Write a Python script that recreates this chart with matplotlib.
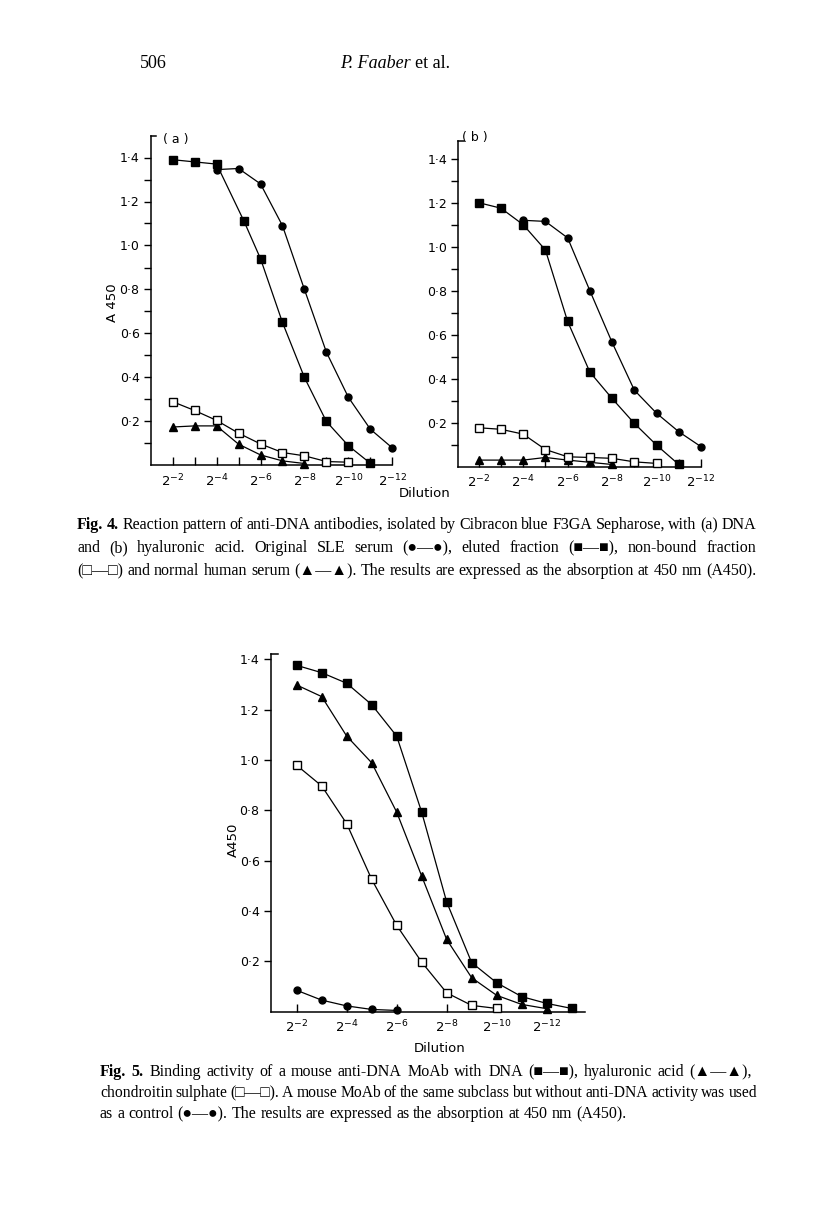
import matplotlib
matplotlib.use('Agg')
import matplotlib.pyplot as plt
import numpy as np

W, H = 816, 1214
SERIF = ['Liberation Serif', 'DejaVu Serif', 'DejaVu Sans']
SANS = ['DejaVu Sans']

# Fig. 4 (a) DNA  -- x is the dilution exponent n (dilution 2^-n)
a_eluted_x = [2, 3, 4, 5.25, 6, 7, 8, 9, 10, 11]
a_eluted_y = [1.39, 1.38, 1.37, 1.11, 0.94, 0.65, 0.40, 0.20, 0.09, 0.01]
a_serum_x = [4, 5, 6, 7, 8, 9, 10, 11, 12]
a_serum_y = [1.345, 1.35, 1.28, 1.09, 0.80, 0.515, 0.31, 0.165, 0.08]
a_nonbound_x = [2, 3, 4, 5, 6, 7, 8, 9, 10]
a_nonbound_y = [0.29, 0.25, 0.205, 0.147, 0.098, 0.059, 0.044, 0.018, 0.015]
a_normal_x = [2, 3, 4, 5, 6, 7, 8]
a_normal_y = [0.175, 0.18, 0.18, 0.097, 0.048, 0.021, 0.009]

# Fig. 4 (b) hyaluronic acid
b_eluted_x = [2, 3, 4, 5, 6, 7, 8, 9, 10, 11]
b_eluted_y = [1.20, 1.175, 1.10, 0.985, 0.66, 0.43, 0.31, 0.197, 0.098, 0.01]
b_serum_x = [4, 5, 6, 7, 8, 9, 10, 11, 12]
b_serum_y = [1.12, 1.115, 1.04, 0.80, 0.565, 0.348, 0.243, 0.159, 0.091]
b_nonbound_x = [2, 3, 4, 5, 6, 7, 8, 9, 10]
b_nonbound_y = [0.177, 0.17, 0.148, 0.078, 0.045, 0.042, 0.038, 0.022, 0.015]
b_normal_x = [2, 3, 4, 5, 6, 7, 8]
b_normal_y = [0.03, 0.03, 0.03, 0.042, 0.03, 0.02, 0.01]

# Fig. 5
f5_dna_x = [2, 3, 4, 5, 6, 7, 8, 9, 10, 11, 12, 13]
f5_dna_y = [1.376, 1.347, 1.305, 1.22, 1.095, 0.793, 0.436, 0.195, 0.115, 0.06, 0.033, 0.013]
f5_hya_x = [2, 3, 4, 5, 6, 7, 8, 9, 10, 11, 12]
f5_hya_y = [1.298, 1.252, 1.095, 0.989, 0.793, 0.539, 0.287, 0.135, 0.065, 0.029, 0.012]
f5_chon_x = [2, 3, 4, 5, 6, 7, 8, 9, 10]
f5_chon_y = [0.979, 0.897, 0.747, 0.526, 0.343, 0.197, 0.075, 0.025, 0.013]
f5_ctrl_x = [2, 3, 4, 5, 6]
f5_ctrl_y = [0.085, 0.046, 0.023, 0.009, 0.005]

x_major = [2, 4, 6, 8, 10, 12]
x_labels = ['2$^{-%d}$' % n for n in x_major]
y_major = [0.2, 0.4, 0.6, 0.8, 1.0, 1.2, 1.4]
y_labels = ['0·2', '0·4', '0·6', '0·8', '1·0', '1·2', '1·4']

fig = plt.figure(figsize=(W / 100, H / 100), dpi=100)
fig.patch.set_facecolor('white')


def px_rect(left, top, right, bottom):
    return [left / W, 1 - bottom / H, (right - left) / W, (bottom - top) / H]


def style(ax, xlim, ylim, minor=True):
    ax.set_xlim(*xlim)
    ax.set_ylim(*ylim)
    for s in ['top', 'right']:
        ax.spines[s].set_visible(False)
    for s in ['left', 'bottom']:
        ax.spines[s].set_linewidth(1.1)
    ax.set_xticks(x_major)
    ax.set_xticklabels(x_labels, fontsize=9.5, family=SANS)
    ax.set_yticks(y_major)
    ax.set_yticklabels(y_labels, fontsize=9, family=SANS)
    ax.tick_params(axis='x', which='both', direction='in', length=6, width=1, pad=5)
    ax.tick_params(axis='y', which='both', direction='out', length=5, width=1, pad=3)
    if minor:
        ax.set_xticks([3, 5, 7, 9, 11], minor=True)
        ax.set_yticks([0.1, 0.3, 0.5, 0.7, 0.9, 1.1, 1.3], minor=True)
    # little stub at the top of the y axis
    ax.plot([0, 0.022], [1, 1], transform=ax.transAxes, color='k', lw=1.1, clip_on=False)


def series(ax, x, y, kind, z=3):
    kw = dict(color='k', lw=0.9, clip_on=False, zorder=z)
    if kind == 'fsq':
        ax.plot(x, y, marker='s', ms=6, mfc='k', mec='k', **kw)
    elif kind == 'osq':
        ax.plot(x, y, marker='s', ms=5.5, mfc='white', mec='k', mew=1, **kw)
    elif kind == 'cir':
        ax.plot(x, y, marker='o', ms=5, mfc='k', mec='k', **kw)
    elif kind == 'tri':
        ax.plot(x, y, marker='^', ms=6, mfc='k', mec='k', **kw)


# Fig 4 (a)
ax_a = fig.add_axes(px_rect(150.7, 135.5, 392.3, 465.5))
style(ax_a, (1, 12), (0, 1.5))
series(ax_a, a_normal_x, a_normal_y, 'tri')
series(ax_a, a_nonbound_x, a_nonbound_y, 'osq', 4)
series(ax_a, a_serum_x, a_serum_y, 'cir')
series(ax_a, a_eluted_x, a_eluted_y, 'fsq', 5)
fig.text(163 / W, 1 - 140 / H, '( a )', fontsize=9, family=SANS, va='center')

# Fig 4 (b)
ax_b = fig.add_axes(px_rect(458.3, 141.1, 701, 466.7))
style(ax_b, (1.08, 12), (0, 1.48))
series(ax_b, b_normal_x, b_normal_y, 'tri')
series(ax_b, b_nonbound_x, b_nonbound_y, 'osq', 4)
series(ax_b, b_serum_x, b_serum_y, 'cir')
series(ax_b, b_eluted_x, b_eluted_y, 'fsq', 5)
fig.text(462 / W, 1 - 138 / H, '( b )', fontsize=9, family=SANS, va='center')

fig.text(113 / W, 1 - 303 / H, 'A 450', rotation=90, fontsize=9.5, family=SANS,
         ha='center', va='center')
fig.text(425 / W, 1 - 493 / H, 'Dilution', fontsize=9.5, family=SANS,
         ha='center', va='center')

# Fig 5
ax5 = fig.add_axes(px_rect(270.7, 654.3, 585.4, 1011.7))
style(ax5, (0.96, 13.55), (0, 1.42), minor=False)
series(ax5, f5_ctrl_x, f5_ctrl_y, 'cir')
series(ax5, f5_chon_x, f5_chon_y, 'osq', 4)
series(ax5, f5_hya_x, f5_hya_y, 'tri')
series(ax5, f5_dna_x, f5_dna_y, 'fsq', 5)
fig.text(233 / W, 1 - 840 / H, 'A450', rotation=90, fontsize=9.5, family=SANS,
         ha='center', va='center')
fig.text(440 / W, 1 - 1049 / H, 'Dilution', fontsize=9.5, family=SANS,
         ha='center', va='center')

renderer = fig.canvas.get_renderer()
CAP_SIZE = 11.5


def caption_line(y, x0, x1, line, n_bold=0, size=CAP_SIZE, justify=True):
    words = line.split(' ')
    while True:
        items = []
        for i, w in enumerate(words):
            t = fig.text(0, 1 - y / H, w, fontsize=size, family=SERIF,
                         fontweight='bold' if i < n_bold else 'normal', va='baseline')
            items.append(t)
        widths = [t.get_window_extent(renderer).width for t in items]
        space = size * 100 / 72 * 0.25
        if not justify:
            gap = space
            break
        gap = (x1 - x0 - sum(widths)) / (len(items) - 1)
        if gap >= 2.5:
            break
        for t in items:
            t.remove()
        size -= 0.25
    x = x0
    for t, wd in zip(items, widths):
        t.set_x(x / W)
        x += wd + gap


# page header
hdr_size = 13
fig.text(140 / W, 1 - 68 / H, '506', fontsize=hdr_size, family=SERIF, va='baseline')
t1 = fig.text(340 / W, 1 - 68 / H, 'P. Faaber', fontsize=hdr_size, family=SERIF,
              style='italic', va='baseline')
w1 = t1.get_window_extent(renderer).width
fig.text((340 + w1 + 4) / W, 1 - 68 / H, 'et al.', fontsize=hdr_size, family=SERIF,
         va='baseline')

caption_line(529, 77, 756, 'Fig. 4. Reaction pattern of anti-DNA antibodies, isolated by '
             'Cibracon blue F3GA Sepharose, with (a) DNA', n_bold=2)
caption_line(552, 77, 756, 'and (b) hyaluronic acid. Original SLE serum (●—●), '
             'eluted fraction (■—■), non-bound fraction')
caption_line(575, 77, 756, '(□—□) and normal human serum (▲—▲). The results are '
             'expressed as the absorption at 450 nm (A450).')

caption_line(1076, 100, 752, 'Fig. 5. Binding activity of a mouse anti-DNA MoAb with DNA '
             '(■—■), hyaluronic acid (▲—▲),', n_bold=2)
caption_line(1097, 100, 757, 'chondroitin sulphate (□—□). A mouse MoAb of the same '
             'subclass but without anti-DNA activity was used')
caption_line(1118, 100, 757, 'as a control (●—●). The results are expressed as the '
             'absorption at 450 nm (A450).', justify=False)

fig.savefig('out.png', dpi=100, facecolor='white')
